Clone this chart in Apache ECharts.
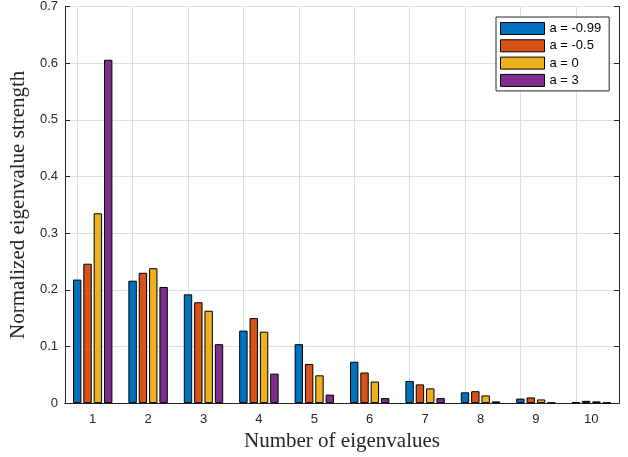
<!DOCTYPE html>
<html>
<head>
<meta charset="utf-8">
<script src="https://cdn.jsdelivr.net/npm/echarts@6/dist/echarts.min.js"></script>
<style>html,body{margin:0;padding:0;background:#fff}#c{width:628px;height:457px}</style>
</head>
<body>
<div id="c"></div>
<script>
const categories = ['1','2','3','4','5','6','7','8','9','10'];
const seriesNames = ['a = -0.99','a = -0.5','a = 0','a = 3'];
const valsA099 = [0.218,0.216,0.192,0.128,0.104,0.073,0.039,0.019,0.008,0.002];
const valsA05  = [0.246,0.230,0.178,0.150,0.069,0.054,0.033,0.021,0.010,0.004];
const valsA0   = [0.335,0.238,0.163,0.126,0.049,0.038,0.026,0.0135,0.0065,0.003];
const valsA3   = [0.606,0.205,0.104,0.052,0.015,0.0088,0.0088,0.003,0.001,0.001];
const yTicks = [0,0.1,0.2,0.3,0.4,0.5,0.6,0.7];
const colors = ['#0072BD','#D95319','#EDB120','#7E2F8E'];

const chart = echarts.init(document.getElementById('c'), null, {renderer:'canvas'});
const axisCol = '#262626';
const gridCol = '#dedede';
const tickFont = {fontFamily:'Liberation Sans', fontSize:13, color:axisCol};
const allVals = [valsA099, valsA05, valsA0, valsA3];

const series = allVals.map((d,i)=>({
  name: seriesNames[i], type:'bar', data:d, barWidth:8.4, barGap:'23%',
  itemStyle:{color:colors[i], borderColor:'#000', borderWidth:1},
  z:2
}));
series[0].markLine = {
  silent:true, symbol:'none', z:0, animation:false,
  label:{show:false},
  lineStyle:{color:gridCol, type:'solid', width:1},
  data: categories.map(c=>({xAxis:c}))
};

chart.setOption({
  animation:false,
  color:colors,
  grid:{left:65, right:9, top:6, bottom:53, containLabel:false},
  legend:{
    data:seriesNames, orient:'vertical', left:496, top:17,
    icon:'rect',
    itemWidth:44, itemHeight:12, itemGap:3.3,
    padding:[4.5,8,3.5,4],
    borderColor:axisCol, borderWidth:1, backgroundColor:'#fff',
    textStyle:{fontFamily:'Liberation Sans', fontSize:13, color:'#000', lineHeight:14},
    itemStyle:{borderColor:'#000', borderWidth:1},
    selectedMode:false
  },
  xAxis:[{
    type:'category', data:categories, position:'bottom',
    name:'Number of eigenvalues', nameLocation:'middle', nameGap:22,
    nameTextStyle:{fontFamily:'Liberation Serif', fontSize:21, color:axisCol},
    axisLine:{lineStyle:{color:axisCol}},
    axisTick:{inside:true, alignWithLabel:true, length:5, lineStyle:{color:axisCol}},
    axisLabel:Object.assign({margin:10}, tickFont),
    splitLine:{show:false}
  },{
    type:'category', data:categories, position:'top',
    axisLine:{lineStyle:{color:axisCol}},
    axisTick:{inside:true, alignWithLabel:true, length:5, lineStyle:{color:axisCol}},
    axisLabel:{show:false}, splitLine:{show:false}
  }],
  yAxis:[{
    type:'value', min:yTicks[0], max:yTicks[yTicks.length-1], interval:0.1,
    name:'Normalized eigenvalue strength', nameLocation:'middle', nameGap:34,
    nameTextStyle:{fontFamily:'Liberation Serif', fontSize:21, color:axisCol},
    axisLine:{show:true, lineStyle:{color:axisCol}},
    axisTick:{show:true, inside:true, length:5, lineStyle:{color:axisCol}},
    axisLabel:Object.assign({margin:7, formatter:v=>String(Math.round(v*10)/10)}, tickFont),
    splitLine:{show:true, lineStyle:{color:gridCol, width:1}}
  },{
    type:'value', min:yTicks[0], max:yTicks[yTicks.length-1], interval:0.1, position:'right',
    axisLine:{show:true, lineStyle:{color:axisCol}},
    axisTick:{show:true, inside:true, length:5, lineStyle:{color:axisCol}},
    axisLabel:{show:false}, splitLine:{show:false}
  }],
  series: series
});
</script>
</body>
</html>
